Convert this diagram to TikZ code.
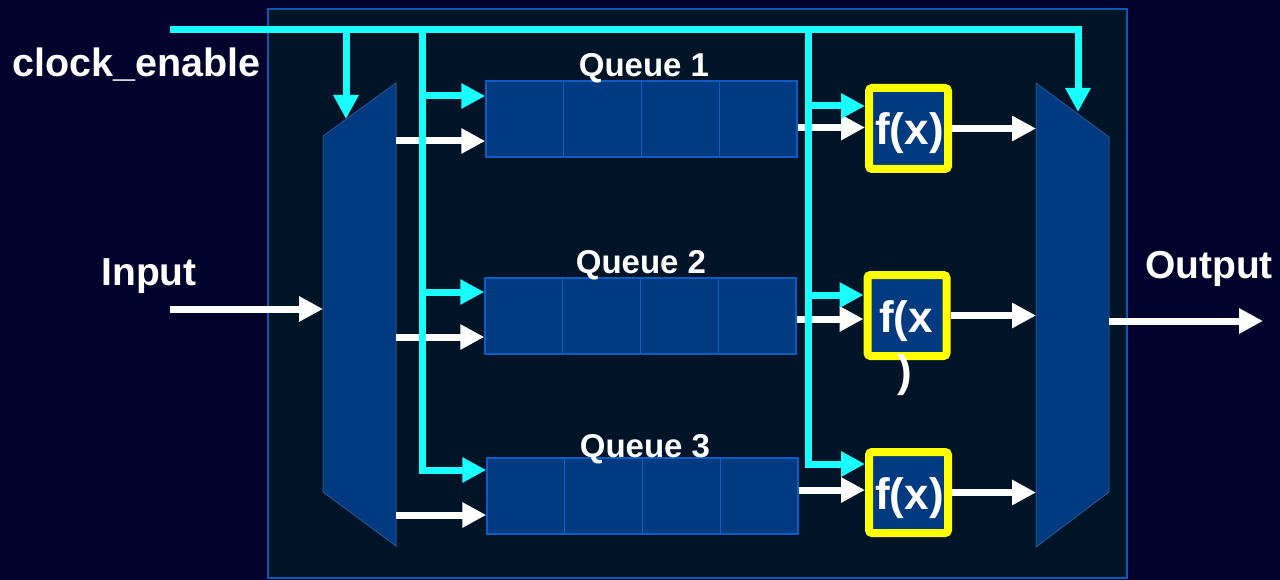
\documentclass[tikz,border=0pt]{standalone}
\usepackage{fontspec}
\setmainfont{Liberation Sans}
\usetikzlibrary{arrows.meta,calc}
\definecolor{bgout}{HTML}{03022C}
\definecolor{bgin}{HTML}{001428}
\definecolor{frame}{HTML}{0A5AB4}
\definecolor{qfill}{HTML}{003A80}
\definecolor{qline}{HTML}{0C5CC4}
\definecolor{muxline}{HTML}{24508C}
\definecolor{cyanc}{HTML}{19FFFF}
\definecolor{yel}{HTML}{FFFF00}
\begin{document}
\begin{tikzpicture}[x=1pt,y=-1pt,
  wire/.style={draw=white,line width=7pt},
  clk/.style={draw=cyanc,line width=7pt,line join=miter},
  headed/.style={-{Triangle[length=24pt,width=24pt]}},
  queue/.style={draw=qline,fill=qfill,line width=1.5pt,minimum width=311pt,minimum height=76pt,inner sep=0pt},
  qdiv/.style={draw=qline,line width=1.5pt},
  mux/.style={fill=qfill,draw=muxline,line width=1pt},
  fbox/.style={draw=yel,fill=qfill,line width=8pt,rounded corners=3pt,minimum width=79pt,minimum height=81pt,inner sep=0pt},
  ftxt/.style={text=white,font=\bfseries\fontsize{44}{50}\selectfont,inner sep=0pt},
  lbl/.style={text=white,font=\bfseries\fontsize{39}{44}\selectfont,inner sep=0pt},
  clbl/.style={text=white,font=\bfseries\fontsize{39.5}{44}\selectfont,inner sep=0pt},
  qlbl/.style={text=white,font=\bfseries\fontsize{33}{38}\selectfont,inner sep=0pt}]
\fill[bgout] (0,0) rectangle (1280,580);
\useasboundingbox (0,0) rectangle (1280,580);
\node[draw=frame,fill=bgin,line width=1.5pt,minimum width=859pt,minimum height=569pt,inner sep=0pt] (board) at (697.5,293.5) {};
% multiplexers
\coordinate (mL1) at (323,136);
\coordinate (mL2) at (396,83);
\coordinate (mL3) at (396,546);
\coordinate (mL4) at (323,492);
\coordinate (mR1) at (1036,83);
\coordinate (mR2) at (1109,137);
\coordinate (mR3) at (1109,492);
\coordinate (mR4) at (1036,547);
\filldraw[mux] (mL1) -- (mL2) -- (mL3) -- (mL4) -- cycle;
\filldraw[mux] (mR1) -- (mR2) -- (mR3) -- (mR4) -- cycle;
% queues
\node[queue] (q1) at (641.5,119) {};
\node[queue] (q2) at (640.5,316) {};
\node[queue] (q3) at (642.5,496) {};
\foreach \q in {q1,q2,q3}{
  \foreach \f in {0.25,0.5,0.75}{
    \draw[qdiv] ($(\q.north west)!\f!(\q.north east)$) -- ($(\q.south west)!\f!(\q.south east)$);
  }
}
% function boxes
\node[fbox] (f1) at (908.5,128.5) {};
\node[fbox] (f2) at (907,315.5) {};
\node[fbox] (f3) at (908.5,492.5) {};
% labels
\node[clbl,anchor=base west] (lclk) at (12,77) {clock\_enable};
\node[lbl,anchor=base] (lin) at (149,285) {Input};
\node[lbl,anchor=base] (lout) at (1209,278) {Output};
% named points
\coordinate (inS) at (170,309);
\coordinate (outS) at (1109,321);
\coordinate (outE) at (1263,321);
\coordinate (mLo1) at (396,141);
\coordinate (mLo2) at (396,337);
\coordinate (mLo3) at (396,515);
\coordinate (q1o) at ($(q1.east)+(0,8.5)$);
\coordinate (q2o) at ($(q2.east)+(0,3)$);
\coordinate (q3o) at ($(q3.east)+(0,-6)$);
\coordinate (f1c) at ($(f1.west)+(0,-22.5)$);
\coordinate (f2c) at ($(f2.west)+(0,-20.5)$);
\coordinate (f3c) at ($(f3.west)+(0,-28.5)$);
\coordinate (cS) at (170,30);
\coordinate (cA) at (422,30);
\coordinate (cB) at (808,30);
\coordinate (cL) at (346,30);
\coordinate (cLe) at (346,119);
\coordinate (cRe) at (1078,112);
% white data wires
\draw[wire,headed] (inS) -- (mL1 |- inS);
\draw[wire,headed] (outS) -- (outE);
\draw[wire,headed] (mLo1) -- (q1.west |- mLo1);
\draw[wire,headed] (mLo2) -- (q2.west |- mLo2);
\draw[wire,headed] (mLo3) -- (q3.west |- mLo3);
\draw[wire,headed] (q1o) -- (f1.west |- q1o);
\draw[wire,headed] (q2o) -- (f2.west |- q2o);
\draw[wire,headed] (q3o) -- (f3.west |- q3o);
\draw[wire,headed] (f1.east) -- (f1.east -| mR1);
\draw[wire,headed] (f2.east) -- (f2.east -| mR1);
\draw[wire,headed] (f3.east) -- (f3.east -| mR1);
% clock enable wires
\draw[clk,headed] (cS) -| (cRe);
\draw[clk,headed] (cL) -- (cLe);
\draw[clk,headed] (cA) |- ($(q3.west)+(0,-26)$);
\draw[clk,headed] (cA |- q1.west) ++(0,-23) -- ($(q1.west)+(0,-23)$);
\draw[clk,headed] (cA |- q2.west) ++(0,-24) -- ($(q2.west)+(0,-24)$);
\draw[clk,headed] (cB) |- (f3c);
\draw[clk,headed] (cB |- f1c) -- (f1c);
\draw[clk,headed] (cB |- f2c) -- (f2c);
% queue labels
\node[qlbl,anchor=base] (lq1) at (644,77) {Queue 1};
\node[qlbl,anchor=base] (lq2) at (641,273) {Queue 2};
\node[qlbl,anchor=base] (lq3) at (645,457) {Queue 3};
% function texts
\node[ftxt,anchor=base] (t1) at (909.5,145) {f(x)};
\node[ftxt,anchor=base] (t2) at (906,332) {f(x};
\node[ftxt,anchor=base] (t2b) at (905,386) {)};
\node[ftxt,anchor=base] (t3) at (909.5,509) {f(x)};
\end{tikzpicture}
\end{document}
